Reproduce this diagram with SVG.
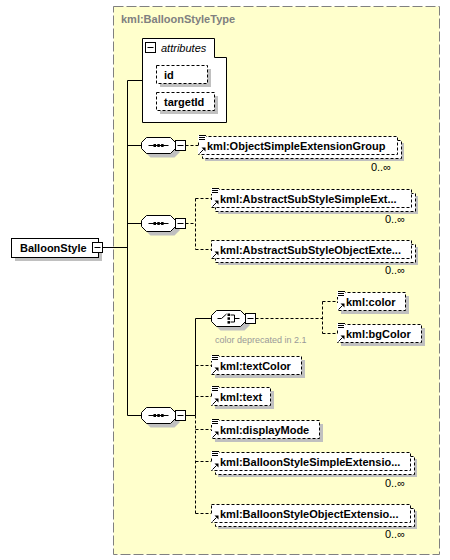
<svg xmlns="http://www.w3.org/2000/svg" width="450" height="560" viewBox="0 0 450 560">
<style>
text{font-family:"Liberation Sans",Arial,sans-serif}
.t{font-size:11px;font-weight:bold;fill:#000}
.title{font-size:11px;font-weight:bold;fill:#808080}
.it{font-size:11px;font-style:italic;fill:#000}
.note{font-size:9px;fill:#999999}
.mult{font-size:11px;fill:#000;text-anchor:end}
.shadow{fill:#c0c0c0}
.box{fill:#fff;stroke:#000;stroke-width:1}
.dbox{fill:#fff;stroke:#000;stroke-width:1;stroke-dasharray:3,2}
.c{fill:none;stroke:#000;stroke-width:1}
.cd{fill:none;stroke:#000;stroke-width:1;stroke-dasharray:3,2}
.frame{fill:#ffffcc;stroke:#808080;stroke-width:1;stroke-dasharray:10,3}
</style>
<defs>
<g id="minus"><rect x="0.5" y="0.5" width="10" height="10" class="box"/><path d="M2.5,5.5H8.5" class="c"/></g>
<g id="oct">
<polygon points="9,4 33,4 38,9 38,15 33,20 9,20 4,15 4,9" class="shadow"/>
<polygon points="5,0 29,0 34,5 34,11 29,16 5,16 0,11 0,5" class="box"/>
</g>
<g id="seq">
<use href="#oct"/>
<path d="M7,8H27" class="c"/>
<rect x="12" y="6.5" width="2.5" height="3" fill="#000"/>
<rect x="15.8" y="6.5" width="2.5" height="3" fill="#000"/>
<rect x="19.6" y="6.5" width="2.5" height="3" fill="#000"/>
</g>
<g id="choice">
<use href="#oct"/>
<path d="M6,8H10L15,3.5" class="c"/>
<rect x="16" y="3" width="2.5" height="2.5" fill="#000"/>
<rect x="16" y="6.8" width="2.5" height="2.5" fill="#000"/>
<rect x="16" y="10.6" width="2.5" height="2.5" fill="#000"/>
<path d="M19,4.5H23V11.5H19M23,8H28" class="c"/>
</g>
<g id="li">
<rect x="0" y="-1" width="8" height="6" fill="#fff"/>
<path d="M1,-0.5H8M1,1.5H7M1,3.5H7" class="c"/>
</g>
<g id="ar">
<rect x="0" y="1" width="8" height="7" fill="#fff"/>
<path d="M1.5,7.5L5.5,3.5" class="c"/>
<polygon points="3.5,1.5 7.5,1.5 7.5,5.5" fill="#000"/>
</g>
</defs>

<g id="frame">
<rect x="113.5" y="6.5" width="326" height="548" class="frame"/>
<text x="121" y="23" class="title">kml:BalloonStyleType</text>
</g>

<g id="connectors">
<path d="M102.5,247.5H127.5M127.5,80.5V415.5M127.5,80.5H142.5M127.5,145.5H141.5M127.5,223.5H141.5M127.5,415.5H141.5M185.5,415.5H195.5M195.5,318.5V415.5M195.5,318.5H211.5" class="c"/>
<path d="M185.5,145.5H198M185.5,223.5H195.5M195.5,198.5V249.5M195.5,198.5H211M195.5,249.5H211M255.5,318.5H322.5M322.5,301.5V333.5M322.5,301.5H337M322.5,333.5H337M195.5,415.5V513.5M195.5,365.5H211M195.5,396.5H211M195.5,429.5H211M195.5,461.5H211M195.5,513.5H211" class="cd"/>
</g>

<g id="BalloonStyle">
<rect x="15" y="242" width="87" height="19" class="shadow"/>
<rect x="11.5" y="238.5" width="87" height="19" class="box"/>
<text x="20" y="252" class="t">BalloonStyle</text>
<use href="#minus" x="92" y="242"/>
</g>

<g id="attributes">
<path d="M142.5,38.5H214.5V57.5H226.5V122.5H142.5Z" class="box"/>
<use href="#minus" x="145" y="42"/>
<text x="161" y="52" class="it">attributes</text>
</g>

<g id="attr-id">
<rect x="160" y="69" width="51" height="18" class="shadow"/>
<rect x="156.5" y="65.5" width="51" height="18" class="dbox"/>
<text x="164" y="78.5" class="t">id</text>
</g>

<g id="attr-targetId">
<rect x="160" y="96" width="58" height="18" class="shadow"/>
<rect x="156.5" y="92.5" width="58" height="18" class="dbox"/>
<text x="164" y="105.5" class="t">targetId</text>
</g>

<g id="seq1">
<use href="#seq" x="141.5" y="137.5"/>
<use href="#minus" x="175" y="140"/>
</g>

<g id="ObjectSimpleExtensionGroup">
<rect x="205" y="143" width="199" height="18" class="shadow"/>
<rect x="202.5" y="140.5" width="199" height="18" class="dbox"/>
<rect x="198.5" y="136.5" width="199" height="18" class="dbox"/>
<use href="#li" x="198" y="136"/>
<use href="#ar" x="198" y="146"/>
<text x="207" y="150" class="t">kml:ObjectSimpleExtensionGroup</text>
<text x="391" y="171" class="mult">0..∞</text>
</g>

<g id="seq2">
<use href="#seq" x="141.5" y="215.5"/>
<use href="#minus" x="175" y="218"/>
</g>

<g id="AbstractSubStyleSimpleExtensionGroup">
<rect x="218" y="196" width="200" height="18" class="shadow"/>
<rect x="215.5" y="193.5" width="200" height="18" class="dbox"/>
<rect x="211.5" y="189.5" width="200" height="18" class="dbox"/>
<use href="#li" x="211" y="189"/>
<use href="#ar" x="211" y="199"/>
<text x="220" y="203" class="t">kml:AbstractSubStyleSimpleExt...</text>
<text x="405" y="223" class="mult">0..∞</text>
</g>

<g id="AbstractSubStyleObjectExtensionGroup">
<rect x="218" y="247" width="200" height="18" class="shadow"/>
<rect x="215.5" y="244.5" width="200" height="18" class="dbox"/>
<rect x="211.5" y="240.5" width="200" height="18" class="dbox"/>
<use href="#ar" x="211" y="250"/>
<text x="220" y="254" class="t">kml:AbstractSubStyleObjectExte...</text>
<text x="405" y="274" class="mult">0..∞</text>
</g>

<g id="seq3">
<use href="#seq" x="141.5" y="407.5"/>
<use href="#minus" x="175" y="410"/>
</g>

<g id="choice1">
<use href="#choice" x="211.5" y="310.5"/>
<use href="#minus" x="245" y="313"/>
<text x="215" y="343" class="note">color deprecated in 2.1</text>
</g>

<g id="color">
<rect x="341" y="296" width="68" height="18" class="shadow"/>
<rect x="337.5" y="292.5" width="68" height="18" class="dbox"/>
<use href="#li" x="337" y="292"/>
<use href="#ar" x="337" y="302"/>
<text x="346" y="306" class="t">kml:color</text>
</g>

<g id="bgColor">
<rect x="341" y="328" width="84" height="18" class="shadow"/>
<rect x="337.5" y="324.5" width="84" height="18" class="dbox"/>
<use href="#li" x="337" y="324"/>
<use href="#ar" x="337" y="334"/>
<text x="346" y="338" class="t">kml:bgColor</text>
</g>

<g id="textColor">
<rect x="215" y="360" width="90" height="18" class="shadow"/>
<rect x="211.5" y="356.5" width="90" height="18" class="dbox"/>
<use href="#li" x="211" y="356"/>
<use href="#ar" x="211" y="366"/>
<text x="220" y="370" class="t">kml:textColor</text>
</g>

<g id="text">
<rect x="215" y="391" width="59" height="18" class="shadow"/>
<rect x="211.5" y="387.5" width="59" height="18" class="dbox"/>
<use href="#li" x="211" y="387"/>
<use href="#ar" x="211" y="397"/>
<text x="220" y="401" class="t">kml:text</text>
</g>

<g id="displayMode">
<rect x="215" y="424" width="108" height="18" class="shadow"/>
<rect x="211.5" y="420.5" width="108" height="18" class="dbox"/>
<use href="#li" x="211" y="420"/>
<use href="#ar" x="211" y="430"/>
<text x="220" y="434" class="t">kml:displayMode</text>
</g>

<g id="BalloonStyleSimpleExtensionGroup">
<rect x="218" y="459" width="199" height="18" class="shadow"/>
<rect x="215.5" y="456.5" width="199" height="18" class="dbox"/>
<rect x="211.5" y="452.5" width="199" height="18" class="dbox"/>
<use href="#li" x="211" y="452"/>
<use href="#ar" x="211" y="462"/>
<text x="220" y="466" class="t">kml:BalloonStyleSimpleExtensio...</text>
<text x="405" y="487" class="mult">0..∞</text>
</g>

<g id="BalloonStyleObjectExtensionGroup">
<rect x="218" y="511" width="199" height="18" class="shadow"/>
<rect x="215.5" y="508.5" width="199" height="18" class="dbox"/>
<rect x="211.5" y="504.5" width="199" height="18" class="dbox"/>
<use href="#ar" x="211" y="514"/>
<text x="220" y="518" class="t">kml:BalloonStyleObjectExtensio...</text>
<text x="405" y="538" class="mult">0..∞</text>
</g>
</svg>
